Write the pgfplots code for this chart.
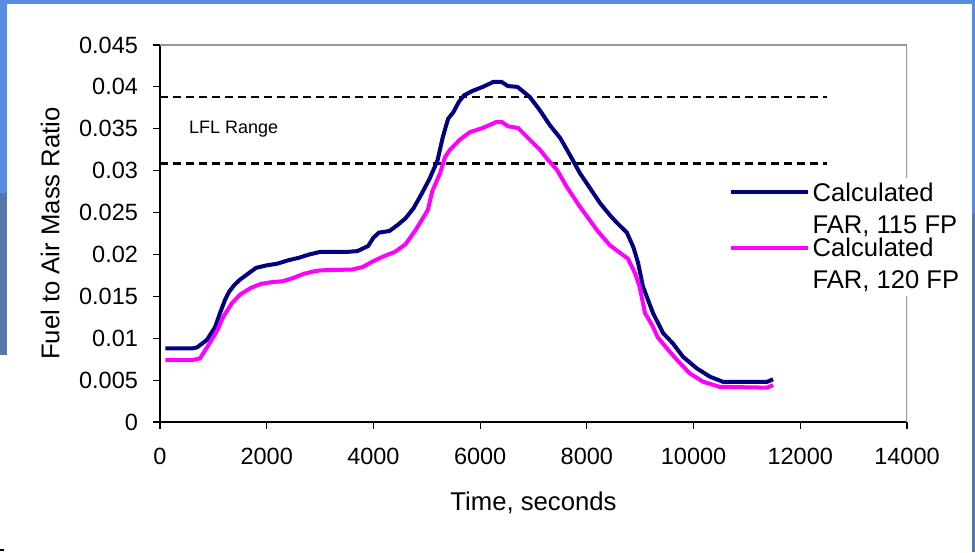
\documentclass[border=0pt]{standalone}
\usepackage{fontspec}
\setmainfont{Liberation Sans}
\usepackage{pgfplots}
\pgfplotsset{compat=1.18}
\definecolor{navyline}{RGB}{0,0,128}
\definecolor{magline}{RGB}{255,0,255}
\definecolor{bglight}{RGB}{88,140,224}
\definecolor{bgdark}{RGB}{86,118,174}
\begin{document}
\begin{tikzpicture}
\useasboundingbox (0,0) rectangle (487.5pt,276pt);
\fill[bglight] (0,274pt) rectangle (487.5pt,276pt);
\fill[bglight] (0,179.5pt) rectangle (3.5pt,276pt);
\fill[bgdark] (0,98.5pt) rectangle (3.5pt,179.5pt);
\fill[bglight] (486pt,169.5pt) rectangle (487.5pt,276pt);
\fill[bgdark] (486pt,0) rectangle (487.5pt,169.5pt);
\begin{axis}[
  at={(80pt,65pt)}, anchor=south west,
  scale only axis, width=373.5pt, height=188.5pt,
  xmin=0, xmax=14000, ymin=0, ymax=0.045,
  axis lines*=left, axis line style={-, line width=0.7pt, black},
  tick align=outside, major tick length=3.5pt,
  tick style={black, line width=0.6pt},
  xtick={0,2000,4000,6000,8000,10000,12000,14000},
  xticklabels={0,2000,4000,6000,8000,10000,12000,14000},
  ytick={0,0.005,0.01,0.015,0.02,0.025,0.03,0.035,0.04,0.045},
  yticklabels={0,0.005,0.01,0.015,0.02,0.025,0.03,0.035,0.04,0.045},
  scaled ticks=false,
  ticklabel style={font=\fontsize{11.75}{14}\selectfont},
  xticklabel style={yshift=-6pt},
  yticklabel style={xshift=-4pt},
  xlabel={Time, seconds}, ylabel={Fuel to Air Mass Ratio},
  label style={font=\fontsize{12.85}{15}\selectfont},
  xlabel style={at={(axis description cs:0.5,-0.215)}, anchor=center},
  ylabel style={at={(axis description cs:-0.147,0.5)}, anchor=center},
  legend style={at={(0.756,0.647)}, anchor=north west, draw=none, fill=white,
    font=\fontsize{12.8}{16}\selectfont, cells={anchor=west, align=left},
    row sep=1pt, inner sep=2pt, nodes={inner ysep=0pt, inner xsep=1.25pt}},
  legend image code/.code={\draw[#1] (0pt,8.5pt) -- (38.5pt,8.5pt);},
]
\draw[gray!80, line width=0.6pt] (rel axis cs:0,1) -- (rel axis cs:1,1) -- (rel axis cs:1,0);
\addplot[black, line width=1.4pt, dash pattern=on 4pt off 2.5pt, forget plot] coordinates {(0,0.0388) (12500,0.0388)};
\addplot[black, line width=1.4pt, dash pattern=on 4pt off 2.5pt, forget plot] coordinates {(0,0.0309) (12500,0.0309)};
\node[anchor=west, font=\fontsize{9}{11}\selectfont] at (axis cs:412,0.035) {LFL Range};
\addplot[navyline, line width=2pt] coordinates {
(100,0.0088) (620,0.0088) (693,0.0089) (880,0.0098) (1030,0.0113) (1125,0.0130) (1220,0.0146)
(1300,0.0156) (1400,0.0164) (1500,0.0170) (1650,0.0177) (1800,0.0184) (2000,0.0187) (2200,0.0189)
(2400,0.0193) (2600,0.0196) (2800,0.0200) (3000,0.0203) (3500,0.0203) (3700,0.0204) (3900,0.0210)
(4000,0.0220) (4100,0.0226) (4300,0.0228) (4450,0.0235) (4600,0.0243) (4750,0.0255) (4900,0.0272)
(5050,0.0290) (5200,0.0312) (5300,0.0340) (5400,0.0362) (5500,0.0370) (5600,0.0382) (5700,0.0390)
(5850,0.0395) (6050,0.0400) (6250,0.0406) (6400,0.0406) (6520,0.0401) (6700,0.0400) (6930,0.0388)
(7120,0.0372) (7310,0.0354) (7500,0.0339) (7680,0.0319) (7870,0.0297) (8060,0.0279) (8250,0.0261)
(8430,0.0247) (8560,0.0238) (8750,0.0226) (8870,0.0209) (8960,0.0190) (9050,0.0162) (9180,0.0140)
(9240,0.0130) (9430,0.0106) (9610,0.0094) (9800,0.0078) (10060,0.0064) (10310,0.0054) (10550,0.0048)
(11380,0.0048) (11490,0.0051)
};
\addlegendentry{Calculated\\FAR, 115 FP}
\addplot[magline, line width=2pt] coordinates {
(100,0.0074) (620,0.0074) (750,0.0076) (930,0.0094) (1080,0.0110) (1180,0.0125) (1350,0.0142)
(1500,0.0152) (1700,0.0160) (1900,0.0165) (2100,0.0167) (2300,0.0168) (2500,0.0172) (2700,0.0177)
(2900,0.0180) (3000,0.0181) (3600,0.0182) (3800,0.0185) (4000,0.0192) (4200,0.0198) (4400,0.0203)
(4600,0.0212) (4800,0.0230) (5020,0.0253) (5100,0.0275) (5250,0.0297) (5340,0.0316) (5435,0.0325)
(5620,0.0337) (5810,0.0346) (6050,0.0351) (6300,0.0358) (6410,0.0358) (6520,0.0353) (6710,0.0351)
(6930,0.0337) (7120,0.0325) (7270,0.0313) (7440,0.0301) (7620,0.0281) (7870,0.0257) (8190,0.0229)
(8430,0.0211) (8620,0.0202) (8770,0.0195) (8900,0.0178) (8990,0.0161) (9090,0.0130) (9220,0.0116)
(9330,0.0101) (9500,0.0088) (9690,0.0074) (9930,0.0058) (10180,0.0048) (10490,0.0042) (11380,0.0041)
(11490,0.0044)
};
\addlegendentry{Calculated\\FAR, 120 FP}
\end{axis}
\fill[black] (0,0.5pt) rectangle (2pt,1.5pt);
\end{tikzpicture}
\end{document}
